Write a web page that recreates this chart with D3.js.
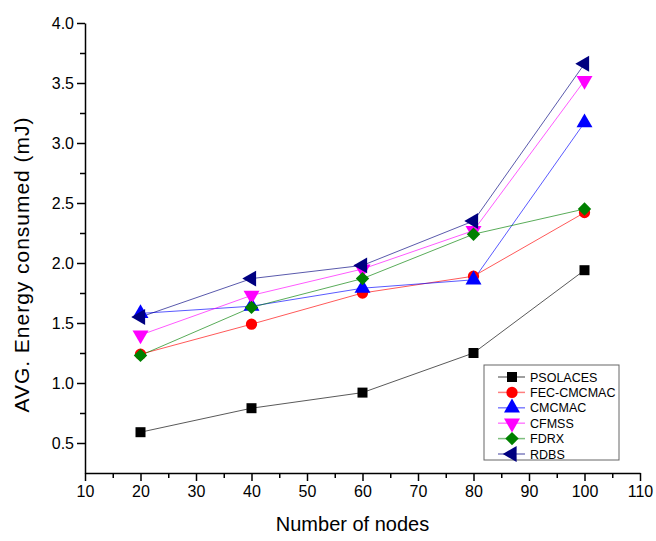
<!DOCTYPE html>
<html>
<head>
<meta charset="utf-8">
<script src="https://cdn.jsdelivr.net/npm/d3@7"></script>
<style>
  body { margin: 0; background: #fff; }
  text { font-family: "Liberation Sans", Arial, sans-serif; fill: #000; }
</style>
</head>
<body>
<div class="chart"></div>
<script>
var svgWidth = 656;
var svgHeight = 541;

// data
var nodes = [20, 40, 60, 80, 100];
var psolaces = [0.59, 0.79, 0.92, 1.25, 1.94];
var fecCmcmac = [1.24, 1.49, 1.75, 1.89, 2.42];
var cmcmac = [1.58, 1.64, 1.79, 1.86, 3.17];
var cfmss = [1.40, 1.73, 1.95, 2.27, 3.52];
var fdrx = [1.23, 1.63, 1.87, 2.24, 2.45];
var rdbs = [1.55, 1.87, 1.98, 2.35, 3.66];

var seriesNames = ["PSOLACES", "FEC-CMCMAC", "CMCMAC", "CFMSS", "FDRX", "RDBS"];
var seriesValues = [psolaces, fecCmcmac, cmcmac, cfmss, fdrx, rdbs];
var seriesColors = ["#000000", "#ff0000", "#0000ff", "#ff00ff", "#008000", "#000080"];
var seriesShapes = ["square", "circle", "up", "down", "diamond", "left"];

var xTicks = [10, 20, 30, 40, 50, 60, 70, 80, 90, 100, 110];
var yTicks = [0.5, 1.0, 1.5, 2.0, 2.5, 3.0, 3.5, 4.0];

var margin = { top: 23, right: 16, bottom: 68, left: 85 };
var width = svgWidth - margin.left - margin.right;
var height = svgHeight - margin.top - margin.bottom;

var svg = d3.select(".chart")
  .append("svg")
  .attr("width", svgWidth)
  .attr("height", svgHeight);

var chartGroup = svg.append("g")
  .attr("transform", `translate(${margin.left}, ${margin.top})`);

var xScale = d3.scaleLinear().domain([10, 110]).range([0, width]);
var yScale = d3.scaleLinear().domain([0.25, 4.0]).range([height, 0]);

// minor ticks first, then major ones
chartGroup.append("g")
  .attr("transform", `translate(0, ${height})`)
  .call(d3.axisBottom(xScale).tickValues(d3.range(15, 110, 10)).tickSize(5).tickFormat(""))
  .call(g => g.select(".domain").remove());

chartGroup.append("g")
  .call(d3.axisLeft(yScale).tickValues(d3.range(0.75, 4.0, 0.5)).tickSize(5).tickFormat(""))
  .call(g => g.select(".domain").remove());

var xAxis = chartGroup.append("g")
  .attr("transform", `translate(0, ${height})`)
  .call(d3.axisBottom(xScale).tickValues(xTicks).tickSize(8).tickSizeOuter(0).tickPadding(5).tickFormat(d3.format("d")));

var yAxis = chartGroup.append("g")
  .call(d3.axisLeft(yScale).tickValues(yTicks).tickSize(8).tickSizeOuter(0).tickPadding(3).tickFormat(d3.format(".1f")));

svg.selectAll(".tick text").attr("font-size", "16px").attr("font-family", "Liberation Sans, Arial, sans-serif");
svg.selectAll(".tick line, .domain").attr("stroke", "#000").attr("stroke-width", 1.5);

// axis titles
chartGroup.append("text")
  .attr("x", width / 2 - 10)
  .attr("y", height + 58)
  .attr("text-anchor", "middle")
  .attr("font-size", "20px")
  .text("Number of nodes");

chartGroup.append("text")
  .attr("transform", `translate(${-56}, ${265 - margin.top}) rotate(-90)`)
  .attr("text-anchor", "middle")
  .attr("font-size", "21px")
  .attr("textLength", 295)
  .attr("lengthAdjust", "spacing")
  .text("AVG. Energy consumed (mJ)");

function markerPath(shape) {
  if (shape === "square") return d3.symbol(d3.symbolSquare, 100)();
  if (shape === "circle") return d3.symbol(d3.symbolCircle, 100)();
  if (shape === "diamond") return d3.symbol(d3.symbolSquare, 90)();
  return d3.symbol(d3.symbolTriangle, 110)();
}

function markerRotate(shape) {
  if (shape === "diamond") return 45;
  if (shape === "down") return 180;
  if (shape === "left") return -90;
  return 0;
}

var line = d3.line()
  .x((d, i) => xScale(nodes[i]))
  .y(d => yScale(d));

seriesValues.forEach(function(values, s) {
  chartGroup.append("path")
    .datum(values)
    .attr("fill", "none")
    .attr("stroke", seriesColors[s])
    .attr("stroke-opacity", 0.65)
    .attr("stroke-width", 1)
    .attr("d", line);
});

seriesValues.forEach(function(values, s) {
  chartGroup.selectAll(".m" + s)
    .data(values)
    .enter()
    .append("path")
    .attr("d", markerPath(seriesShapes[s]))
    .attr("fill", seriesColors[s])
    .attr("transform", (d, i) => `translate(${xScale(nodes[i])}, ${yScale(d)}) rotate(${markerRotate(seriesShapes[s])})`);
});

// legend
var legend = svg.append("g").attr("transform", "translate(484, 365)");
legend.append("rect")
  .attr("width", 135)
  .attr("height", 95)
  .attr("fill", "#fff")
  .attr("stroke", "#666")
  .attr("stroke-width", 1);

seriesNames.forEach(function(name, s) {
  var row = legend.append("g").attr("transform", `translate(0, ${12 + s * 15.4})`);
  row.append("line")
    .attr("x1", 14).attr("x2", 41)
    .attr("stroke", seriesColors[s])
    .attr("stroke-opacity", 0.5)
    .attr("stroke-width", 1.5);
  row.append("path")
    .attr("d", markerPath(seriesShapes[s]))
    .attr("fill", seriesColors[s])
    .attr("transform", `translate(28, 0) rotate(${markerRotate(seriesShapes[s])})`);
  row.append("text")
    .attr("x", 46)
    .attr("y", 4.5)
    .attr("font-size", "12.5px")
    .text(name);
});
</script>
</body>
</html>
